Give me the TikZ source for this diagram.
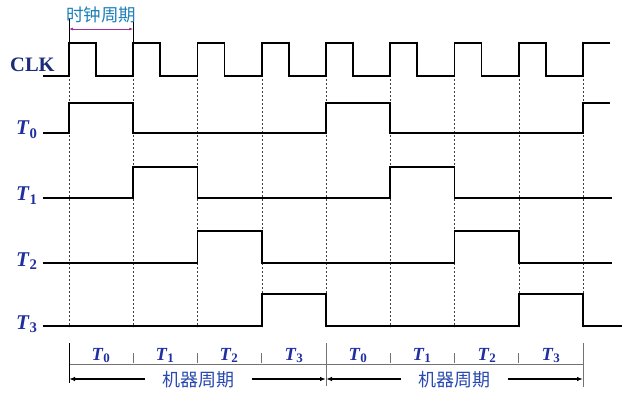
\documentclass[tikz,border=0pt]{standalone}
\usepackage{fontspec}
\setmainfont{Liberation Serif}
\newfontfamily\cjk{Noto Sans CJK SC}
\usetikzlibrary{arrows.meta}
\definecolor{clknavy}{HTML}{1C2C78}
\definecolor{tblue}{HTML}{1F2FA0}
\definecolor{cblue}{HTML}{2A4AB0}
\definecolor{cteal}{HTML}{1E80B8}
\definecolor{cpurple}{HTML}{A0309A}
\newcommand{\tlab}[1]{\textbf{\textit{T}}\textsubscript{\textbf{#1}}}
\begin{document}
\begin{tikzpicture}[x=1pt,y=-1pt,
  sig/.style={line width=1.9pt, line join=miter},
  guide/.style={dashed, dash pattern=on 2pt off 2pt, line width=0.5pt, black!75},
  solidguide/.style={line width=0.7pt, black},
  scaleline/.style={line width=0.6pt, black!55},
  arr/.style={line width=1.9pt, -{Latex[length=6pt,width=4.5pt]}},
  sidelab/.style={font=\fontsize{21}{21}\selectfont, text=tblue, anchor=base west, inner sep=0pt},
  sublab/.style={font=\fontsize{18.5}{18.5}\selectfont, text=tblue, anchor=base, inner sep=0pt},
  cjklab/.style={font=\cjk\fontsize{18}{18}\selectfont, text=cblue, inner ysep=0pt, inner xsep=17pt}]
\useasboundingbox (0,0) rectangle (634,403);

% labels
\node[sidelab, text=clknavy, font=\fontsize{20.5}{20.5}\selectfont\bfseries] (lclk) at (10,72) {CLK};
\node[sidelab] (lt0) at (16,135) {\tlab{0}};
\node[sidelab] (lt1) at (16,201) {\tlab{1}};
\node[sidelab] (lt2) at (16,266) {\tlab{2}};
\node[sidelab] (lt3) at (16,329) {\tlab{3}};

% guides
\foreach \x in {69,133.25,197.5,261.75,326,390.25,454.5,518.75,583}
  \draw[guide] (\x,43) -- (\x,327);
\coordinate (ca) at (69,18);
\coordinate (cb) at (133.25,18);
\coordinate (ca2) at (69,43);
\coordinate (cb2) at (133.25,43);
\draw[solidguide] (ca) -- (ca2);
\draw[solidguide] (cb) -- (cb2);

% clock period annotation
\node[font=\cjk\fontsize{17.5}{17.5}\selectfont, text=cteal, inner sep=0pt] (tclk) at (101,15) {时钟周期};
\coordinate (pa) at (69,29);
\coordinate (pb) at (133.25,29);
\draw[cpurple, line width=0.8pt, {Latex[length=4pt,width=3pt]}-{Latex[length=4pt,width=3pt]}] (pa) -- (pb);

% signals
\draw[sig] (43,76) -| (69,43) -| (96,76) -| (133.25,43) -| (160.25,76) -| (197.5,43) -| (224.5,76) -| (261.75,43) -| (288.75,76) -| (326,43) -| (353,76) -| (390.25,43) -| (417.25,76) -| (454.5,43) -| (481.5,76) -| (518.75,43) -| (545.75,76) -| (583,43) -- (610,43);
\draw[sig] (43,133) -| (69,103) -| (133.25,133) -| (326,103) -| (390.25,133) -| (583,103) -- (610,103);
\draw[sig] (43,198) -| (133.25,167) -| (197.5,198) -| (390.25,167) -| (454.5,198) -- (612,198);
\draw[sig] (43,263) -| (197.5,231) -| (261.75,263) -| (454.5,231) -| (518.75,263) -- (612,263);
\draw[sig] (43,326) -| (261.75,294) -| (326,326) -| (518.75,294) -| (583,326) -- (622,326);

% bottom scale
\draw[scaleline] (69,364) -- (583,364);
\draw[line width=0.8pt, black] (69,343) -- (69,383);
\draw[scaleline, line width=0.8pt] (326,343) -- (326,386);
\draw[scaleline, line width=0.8pt] (583,343) -- (583,387);
\foreach \x in {133.25,197.5,261.75,390.25,454.5,518.75}
  \draw[scaleline] (\x,353) -- (\x,363);
\foreach \x/\n [count=\i] in {101/0,165/1,229/2,294/3,358/0,422/1,487/2,551/3}
  \node[sublab] (s\i) at (\x,360) {\tlab{\n}};

% machine cycle arrows
\coordinate (m0) at (69,379);
\coordinate (m1) at (326,379);
\coordinate (m2) at (583,379);
\node[cjklab] (mc1) at (198.5,380) {机器周期};
\node[cjklab] (mc2) at (454.5,380) {机器周期};
\draw[arr] (mc1.west |- m0) -- (m0);
\draw[arr] (mc1.east |- m1) -- (m1);
\draw[arr] (mc2.west |- m1) -- (m1);
\draw[arr] (mc2.east |- m2) -- (m2);
\end{tikzpicture}
\end{document}
